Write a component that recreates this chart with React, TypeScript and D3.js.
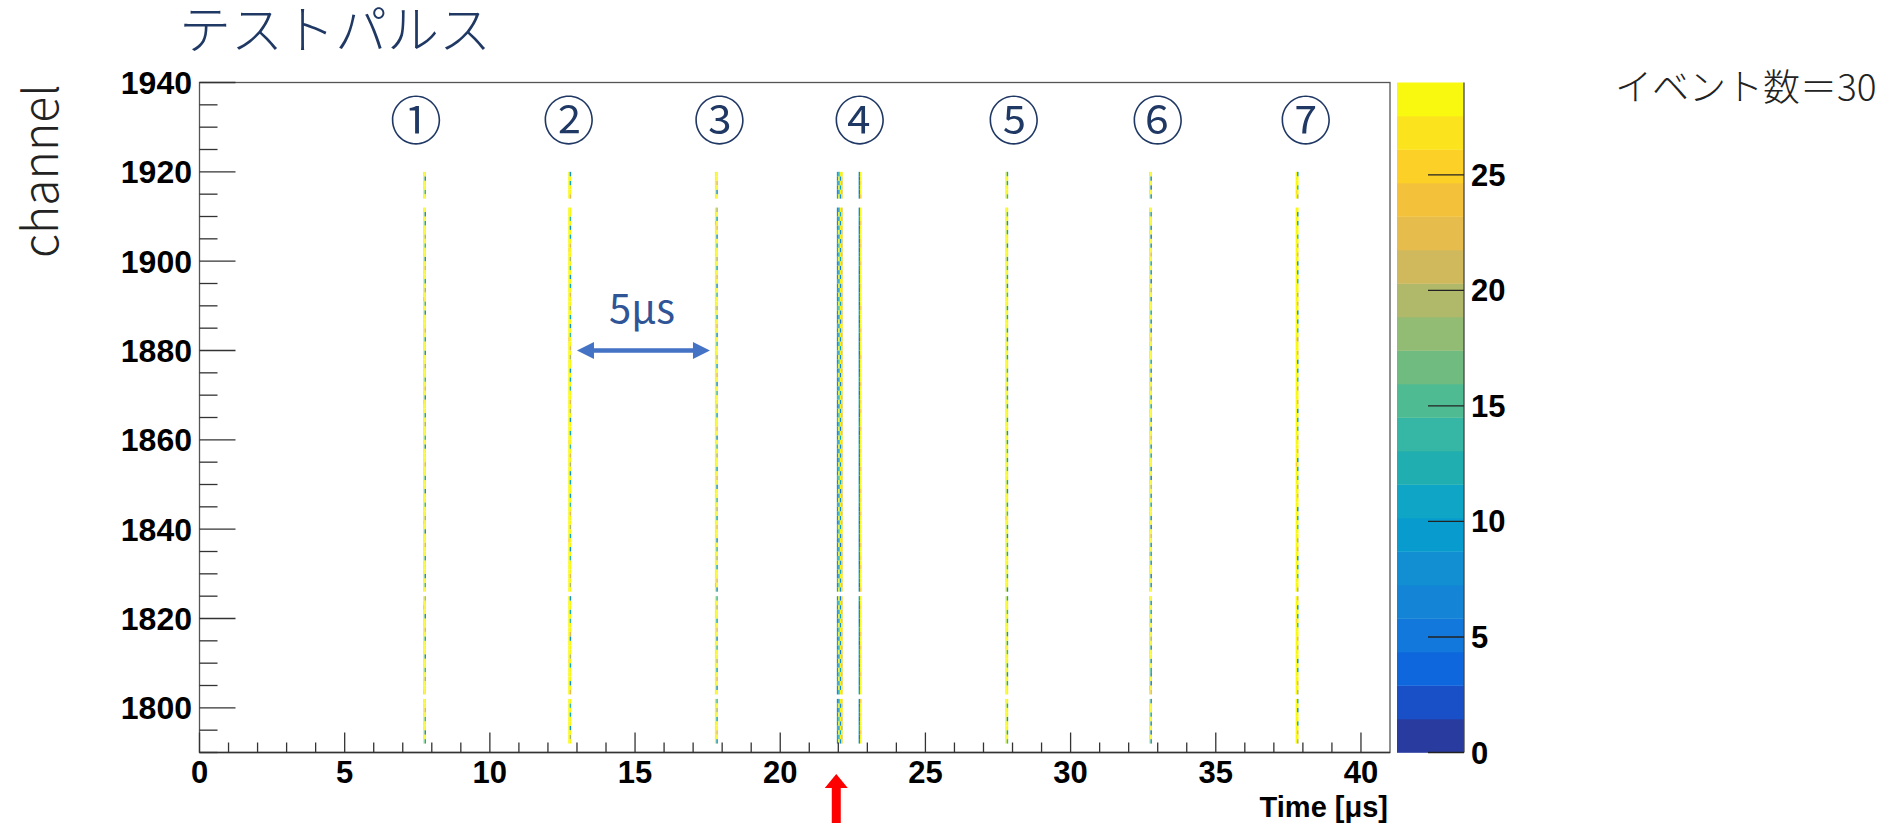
import React from 'react';
import * as d3 from 'd3';

// hit map (channel vs time), 30 test-pulse events
const xTickLabels = [0, 5, 10, 15, 20, 25, 30, 35, 40];
const yTickLabels = [1800, 1820, 1840, 1860, 1880, 1900, 1920, 1940];
const zTickLabels = [0, 5, 10, 15, 20, 25];
const pulseLabels = ['①', '②', '③', '④', '⑤', '⑥', '⑦'];
const pulseLabelTimes = [7.46, 12.72, 17.91, 22.74, 28.04, 33.0, 38.1];

const firstChannel = 1792;
const deadChannels = [1802, 1825, 1912, 1913];
const binWidth = 0.05;

// one code per channel, from 1792 upward
const codeValues: Record<string, number> = {
  Y: 29, y: 27, o: 25, a: 22, g: 19, G: 16, t: 14, c: 11, b: 8, B: 5, d: 2,
};

// time bin start [us] and per-channel codes
const columnTimes = [
  7.70, 7.75,
  12.70, 12.75,
  17.75, 17.80,
  21.95, 22.00, 22.05, 22.10,
  22.70, 22.75,
  27.75, 27.80,
  32.70, 32.75,
  37.75, 37.80,
];
const columnCodes = [
  'YYYYYYYY YYYyYYYY YYYYYYYY YYYYYYoY YYYYYYYY YYYYYYYY YyYYYYYY YYYYYYYY YYYYYYYY YYYYyYYY YYYYYYYY YYYYYYYY YYYoYYYY YYYYYYYY YYYYYYYY YYYYYYYY',
  'cYbYYtYa YYbYYYgY tYYbYYYc YaYYbYYY gYYtYbYY YcYYaYYb YYgYYtYY bYYcYYaY YYbYtYYg YcYYYbYa YtYYgYYb YYcYaYYY bYtYYgYc YYaYbYYt YgYYcYbY YaYtYYbY',
  'YYYYYYYY YYYYYYYY YYyYYYYY YYYYYYYY YYYYYYYY YYYYYoYY YYYYYYYY YYYYYYYY YYYyYYYY YYYYYYYY YYYYYYYY YYoYYYYY YYYYYYYY YYYYYYyY YYYYYYYY YYYYYYYY',
  'YgYbYYcY tYYaYbYY YcYgYYYb aYYtYcYY bYYgYaYY YtYbYYcY gYYaYtYb YYcYbYgY aYtYYcYY bYgYaYYt YcYbYYgY aYYtYbYc YgYYaYcY bYtYgYYa YcYbYtYY gYaYYcYb',
  'YYYYYYYY YyYYYYYY YYYYYYYY YYYYYYYY YYYoYYYY YYYYYYYY YYYYYYYY YYYYYyYY YYYYYYYY YYYYYYYY YYYYYYYY YYYYYYYY YyYYYYYY YYYYYYYY YYYYoYYY YYYYYYYY',
  'bYaYYcYg YtYYbYaY cYgYYtYb YaYcYYgY tYbYaYYc YgYtYbYY aYcYgYtY YbYaYcYY gYtYbYaY YcYgYYtY bYaYcYgY YtYbYaYc YgYYtYbY aYcYgYYt YbYaYcYg YtYbYaYY',
  'bcbtbcbb tbcbbtcb bcbbtbcb cbtbbcbt bbcbtbbc btbcbbcb tbbcbtbb cbbtbcbb bcbtbbcb tbcbbtbc bbtbcbbt cbbcbtbb btcbbcbt bcbbtbcb cbtbbcbb tbcbbtbc',
  'YcYbYtYb YbYcYbYt YbYbYcYb YtYbYbYc YbYtYbYb YcYbYbYt YbYcYbYb YbYtYcYb YbYbYbYc YtYbYcYb YbYbYtYb YcYbYbYb YtYcYbYb YbYbYcYt YbYcYbYb YtYbYbYc',
  'bYcYbYBY bYcYbYbY cYbYBYbY bYbYcYbY BYbYbYcY bYbYBYbY cYbYbYbY BYcYbYbY bYbYcYBY bYbYbYcY bYBYbYbY cYbYbYBY bYcYbYbY bYBYcYbY bYbYbYcY BYbYcYbY',
  'oaygoaoy aoaoyaoa oaoaoayo aoyaoaoa oaoaoyao aoaoaoay oayaoaoa aoaoaoyo aoaoyaoa oaoaoaoy aoyaoaoa oaoaoyao aoaoaoay oayaoaoa aoaoyaoa oaoaoaoy',
  'bBbcbBbb Bbbcbbbc bBbbcbBb bcbBbbBb cbbBbcbb BbbcbBbb bBbbBbcb bcbBbbBb BbcbbBbc bBbbcbBb bcbBbbbB bbBbcbBb cbBbbBbb bBbcbbBb BbbBbcbb bcbBbbBb',
  'YYoYYYyY YoYYYYYo YYYyYoYY oYYYYYyY YYoYYYYo YyYYoYYY YYYoYYyY oYYYYoYY YyYYYYoY YYoYyYYY oYYYYYoY YYyYoYYY YoYYYYyY YYYoYYYo yYYYoYYY YYoYYyYY',
  'YYYYYYYY YYYYYYYY YYYYYyYY YYYYYYYY YYYYYYYY YYYYYYYY YYoYYYYY YYYYYYYY YYYYYYYY YYYYYYYy YYYYYYYY YYYYYYYY YYYYYYYY YYYYyYYY YYYYYYYY YYYYYYYY',
  'tYcYYbYY cYtYYcYb YcYYtYcY bYYcYtYY cYbYYcYt YYcYtYbY cYYtYcYY bYcYYtYc YtYcYbYY cYYcYtYb YcYtYYcY tYbYcYYc YcYYtYbY cYtYcYYb YYcYbYtY cYtYYcYc',
  'YYYYYYYY YYYYyYYY YYYYYYYY YYYYYYYY YYYYYYYY YYoYYYYY YYYYYYYY YYYYYYYY YYYYYYYY YYYYYYYY YYYyYYYY YYYYYYYY YYYYYYYY YYYYYYYY YYYYYYoY YYYYYYYY',
  'bYBYbYcY YbYaYBYb cYbYYbYg YBYbYcYb YaYbYBYY bYcYbYaY BYbYYcYb YgYBYbYY cYbYaYBY bYYcYbYg YBYbYcYY bYaYBYbY cYYbYgYB YbYcYaYb YBYbYYcY gYbYBYbY',
  'YYYYYYYY YYYYYYYY YYYYYYYY YYYyYYYY YYYYYYYY YYYYYYYY YYYYYYYY YYYYYYoY YYYYYYYY YYYYYYYY YYYYYYYY YYyYYYYY YYYYYYYY YYYYYYYY YYYYYYYY YYYyYYYY',
  'gYaYcYYb YtYgYaYY cYbYYgYa YYtYcYbY aYgYYtYc YbYaYgYY tYcYbYYa YgYtYcYb YaYYgYtY cYbYaYYg YtYcYbYa YYgYtYcY bYaYgYYt YcYbYaYg YtYYcYbY aYgYtYYc',
];

// 20 contour colours, bottom (0) to top (29)
const paletteColors = [
  '#2a3ba0', '#1950c8', '#0f67de', '#1378db', '#1384d6',
  '#118fd2', '#089cce', '#0ea5c6', '#20aeb0', '#36b6a4',
  '#4fbb92', '#70bc80', '#92bb73', '#b0b96a', '#d0b85c',
  '#e6bd4c', '#f4c23a', '#fdd028', '#fbe41e', '#f9f90f',
];
const zMax = 29;

const W = 1903;
const H = 823;
const left = 199.5, right = 1390, top = 82.5, bottom = 752.5;
const barLeft = 1397, barRight = 1464;

const tickFont = "'Liberation Sans', Arial, Helvetica, sans-serif";
const jpFont = "'Noto Sans CJK JP', 'Noto Sans', sans-serif";

export default function App() {
  const x = d3.scaleLinear().domain([0, 41]).range([left, right]);
  const y = d3.scaleLinear().domain([1790, 1940]).range([bottom, top]);
  const z = d3.scaleLinear().domain([0, zMax]).range([bottom, top]);
  const color = d3.scaleQuantize<string>().domain([0, zMax]).range(paletteColors);

  const cells: { t: number; ch: number; v: number }[] = [];
  columnCodes.forEach((codes, k) => {
    const s = codes.replace(/ /g, '');
    for (let i = 0; i < s.length; i++) {
      const ch = firstChannel + i;
      if (deadChannels.includes(ch)) continue;
      const v = codeValues[s[i]];
      if (v === undefined) continue;
      cells.push({ t: columnTimes[k], ch, v });
    }
  });

  const xMinor = d3.range(0, 41, 1).filter((d) => d % 5 !== 0);
  const yMinor = d3.range(1790, 1941, 5).filter((d) => d % 20 !== 0);

  const bands = paletteColors.map((c, i) => ({ c, lo: (i * zMax) / 20, hi: ((i + 1) * zMax) / 20 }));

  // blue 5us arrow
  const ay = y(1880);
  const ax0 = x(13.0), ax1 = x(17.58);
  const hl = 17, hh = 8.5, sh = 2.2;
  const blueArrow = `M${ax0},${ay} L${ax0 + hl},${ay - hh} L${ax0 + hl},${ay - sh} L${ax1 - hl},${ay - sh} L${ax1 - hl},${ay - hh} L${ax1},${ay} L${ax1 - hl},${ay + hh} L${ax1 - hl},${ay + sh} L${ax0 + hl},${ay + sh} L${ax0 + hl},${ay + hh} Z`;

  // red marker arrow
  const rx = x(21.93);
  const redArrow = `M${rx},774 L${rx + 11.5},788 L${rx + 4.5},788 L${rx + 4.5},823 L${rx - 4.5},823 L${rx - 4.5},788 L${rx - 11.5},788 Z`;

  return (
    <svg width={W} height={H} style={{ position: 'absolute', left: 0, top: 0, background: '#fff' }}>
      <rect x={0} y={0} width={W} height={H} fill="#fff" />

      {/* cells */}
      <g>
        {cells.map((d, i) => (
          <rect
            key={i}
            x={x(d.t)}
            y={y(d.ch + 1)}
            width={x(d.t + binWidth) - x(d.t)}
            height={y(d.ch) - y(d.ch + 1)}
            fill={color(d.v)}
          />
        ))}
      </g>

      {/* frame */}
      <rect x={left} y={top} width={right - left} height={bottom - top} fill="none" stroke="#555" strokeWidth={1.3} />

      {/* ticks */}
      <g stroke="#333" strokeWidth={1.3}>
        {xTickLabels.map((d) => (
          <line key={d} x1={x(d)} x2={x(d)} y1={bottom} y2={bottom - 20} />
        ))}
        {xMinor.map((d) => (
          <line key={d} x1={x(d)} x2={x(d)} y1={bottom} y2={bottom - 10} />
        ))}
        {yTickLabels.map((d) => (
          <line key={d} x1={left} x2={left + 36} y1={y(d)} y2={y(d)} />
        ))}
        {yMinor.map((d) => (
          <line key={d} x1={left} x2={left + 18} y1={y(d)} y2={y(d)} />
        ))}
      </g>
      <line x1={left} x2={right} y1={bottom} y2={bottom} stroke="#333" strokeWidth={1.6} />

      <g fontFamily={tickFont} fontWeight="bold" fill="#000">
        {xTickLabels.map((d) => (
          <text key={d} x={x(d)} y={783} textAnchor="middle" fontSize={31}>{d}</text>
        ))}
        {yTickLabels.map((d) => (
          <text key={d} x={192} y={y(d) + 11.5} textAnchor="end" fontSize={32}>{d}</text>
        ))}
        <text x={1388} y={816.5} textAnchor="end" fontSize={29}>Time [μs]</text>
      </g>

      {/* colour bar */}
      <g>
        {bands.map((b, i) => (
          <rect key={i} x={barLeft} y={z(b.hi)} width={barRight - barLeft} height={z(b.lo) - z(b.hi) + 0.3} fill={b.c} />
        ))}
        <line x1={barRight} x2={barRight} y1={top} y2={bottom} stroke="#444" strokeWidth={1.3} />
        {zTickLabels.map((d) => (
          <line key={d} x1={barRight - 36} x2={barRight} y1={z(d)} y2={z(d)} stroke="#222" strokeWidth={1.3} />
        ))}
        <g fontFamily={tickFont} fontWeight="bold" fontSize={31} fill="#000">
          {zTickLabels.map((d) => (
            <text key={d} x={1471} y={z(d) + 11}>{d}</text>
          ))}
        </g>
      </g>

      {/* annotations */}
      <text x={179} y={49} fontFamily={jpFont} fontWeight={300} fontSize={52} fill="#203864">テストパルス</text>
      <text
        transform={`translate(58,171) rotate(-90)`}
        textAnchor="middle"
        fontFamily={jpFont}
        fontWeight={300}
        fontSize={48}
        fill="#222"
      >
        channel
      </text>
      <text x={1615} y={101} fontFamily={jpFont} fontWeight={300} fontSize={37} fill="#222">イベント数＝30</text>

      <g fontFamily={jpFont} fontWeight={350} fontSize={52} fill="#203864" textAnchor="middle">
        {pulseLabels.map((l, i) => (
          <text key={l} x={x(pulseLabelTimes[i])} y={y(1931.4)} dy="0.36em">{l}</text>
        ))}
      </g>

      <text x={642} y={323} textAnchor="middle" fontFamily={jpFont} fontSize={40} fill="#2f5597">5μs</text>
      <path d={blueArrow} fill="#4472c4" />
      <path d={redArrow} fill="#ff0000" />
    </svg>
  );
}
